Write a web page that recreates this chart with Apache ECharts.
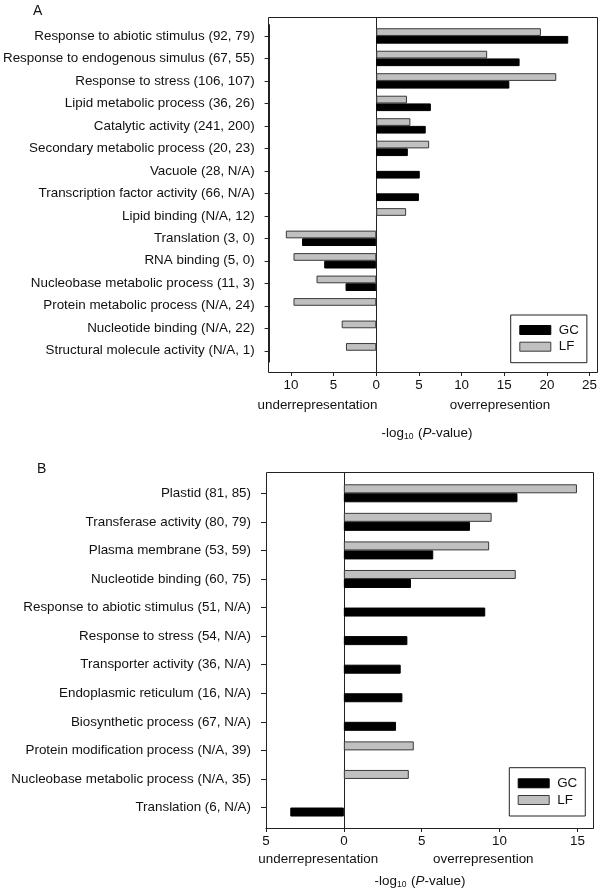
<!DOCTYPE html>
<html>
<head>
<meta charset="utf-8">
<script src="https://cdn.jsdelivr.net/npm/echarts@6/dist/echarts.min.js"></script>
<style>
html,body{margin:0;padding:0;background:#fff;}
#c{width:600px;height:893px;}
</style>
</head>
<body>
<div id="c"></div>
<script>
// ---- Data ----
const catsA = [
  'Response to abiotic stimulus (92, 79)',
  'Response to endogenous simulus (67, 55)',
  'Response to stress (106, 107)',
  'Lipid metabolic process (36, 26)',
  'Catalytic activity (241, 200)',
  'Secondary metabolic process (20, 23)',
  'Vacuole (28, N/A)',
  'Transcription factor activity (66, N/A)',
  'Lipid binding (N/A, 12)',
  'Translation (3, 0)',
  'RNA binding (5, 0)',
  'Nucleobase metabolic process (11, 3)',
  'Protein metabolic process (N/A, 24)',
  'Nucleotide binding (N/A, 22)',
  'Structural molecule activity (N/A, 1)'
];
const gcA = [22.5, 16.8, 15.6, 6.4, 5.8, 3.7, 5.1, 5.0, null, -8.7, -6.1, -3.6, null, null, null];
const lfA = [19.3, 13.0, 21.1, 3.6, 4.0, 6.2, null, null, 3.5, -10.6, -9.7, -7.0, -9.7, -4.05, -3.55];
const ticksA = [-10, -5, 0, 5, 10, 15, 20, 25];

const catsB = [
  'Plastid (81, 85)',
  'Transferase activity (80, 79)',
  'Plasma membrane (53, 59)',
  'Nucleotide binding (60, 75)',
  'Response to abiotic stimulus (51, N/A)',
  'Response to stress (54, N/A)',
  'Transporter activity (36, N/A)',
  'Endoplasmic reticulum (16, N/A)',
  'Biosynthetic process (67, N/A)',
  'Protein modification process (N/A, 39)',
  'Nucleobase metabolic process (N/A, 35)',
  'Translation (6, N/A)'
];
const gcB = [11.15, 8.1, 5.74, 4.31, 9.08, 4.08, 3.65, 3.76, 3.35, null, null, -3.44];
const lfB = [14.97, 9.49, 9.33, 11.04, null, null, null, null, null, 4.49, 4.17, null];
const ticksB = [-5, 0, 5, 10, 15];

// ---- Styles ----
const FONT = 'Liberation Sans, Arial, sans-serif';
const TXT = '#111';
const LINE = '#222';
const LF_COLOR = '#c0c0c0';
const LF_BORDER = '#3a3a3a';

const frameA = {x: 268.5, y: 17.5, w: 329, h: 355};
const frameB = {x: 266.5, y: 472.5, w: 327, h: 356};

const chart = echarts.init(document.getElementById('c'), null, {renderer: 'canvas'});

function xAxisCfg(grid, min, max, ticks, offset) {
  return {
    gridIndex: grid, type: 'value', min: min, max: max, offset: offset,
    axisLine: {show: true, onZero: false, lineStyle: {color: LINE, width: 1}},
    axisTick: {show: true, length: 4, customValues: ticks, lineStyle: {color: LINE}},
    axisLabel: {customValues: ticks, formatter: v => String(Math.abs(v)), fontSize: 13.4, color: TXT, fontFamily: FONT, margin: 7},
    splitLine: {show: false}
  };
}
function yAxisCfg(grid, cats) {
  return {
    gridIndex: grid, type: 'category', data: cats, inverse: true,
    axisLine: {show: true, onZero: false, lineStyle: {color: LINE, width: 1}},
    axisTick: {show: true, interval: 0, alignWithLabel: true, inside: false, length: 5, lineStyle: {color: LINE, width: 1}},
    axisLabel: {interval: 0, fontSize: 13.4, color: TXT, fontFamily: FONT, margin: 15},
    splitLine: {show: false}
  };
}
function legendCfg(left, top, pad) {
  return {
    orient: 'vertical', left: left, top: top, padding: pad,
    borderColor: LINE, borderWidth: 1, backgroundColor: '#fff',
    itemWidth: 31, itemHeight: 9, itemGap: 2.7, selectedMode: false,
    textStyle: {fontSize: 13.4, lineHeight: 14, color: TXT, fontFamily: FONT, padding: [0, 0, 0, 3]},
    data: [
      {name: 'GC', icon: 'rect', itemStyle: {color: '#000', borderColor: '#000', borderWidth: 1}},
      {name: 'LF', icon: 'rect', itemStyle: {color: LF_COLOR, borderColor: LF_BORDER, borderWidth: 1}}
    ]
  };
}

const option = {
  animation: false,
  backgroundColor: '#fff',
  grid: [
    {left: 268, top: 24.7, width: 329, height: 337.3},
    {left: 266, top: 479, width: 327, height: 342.8}
  ],
  xAxis: [
    xAxisCfg(0, -12.5, 25, ticksA, 10),
    xAxisCfg(1, -5, 16, ticksB, 6.2)
  ],
  yAxis: [yAxisCfg(0, catsA), yAxisCfg(1, catsB)],
  legend: [legendCfg(510.7, 315, [8, 8, 9, 8.6]), legendCfg(509.3, 767.7, [8.6, 8, 9, 8.4])],
  series: [
    {name: 'LF', type: 'bar', xAxisIndex: 0, yAxisIndex: 0, data: lfA, barWidth: 7.7, barGap: '0%',
     itemStyle: {color: LF_COLOR, borderColor: LF_BORDER, borderWidth: 1}},
    {name: 'GC', type: 'bar', xAxisIndex: 0, yAxisIndex: 0, data: gcA, barWidth: 7.7, barGap: '0%',
     itemStyle: {color: '#000', borderColor: '#000', borderWidth: 1}},
    {name: 'LF', type: 'bar', xAxisIndex: 1, yAxisIndex: 1, data: lfB, barWidth: 9, barGap: '0%',
     itemStyle: {color: LF_COLOR, borderColor: LF_BORDER, borderWidth: 1}},
    {name: 'GC', type: 'bar', xAxisIndex: 1, yAxisIndex: 1, data: gcB, barWidth: 9, barGap: '0%',
     itemStyle: {color: '#000', borderColor: '#000', borderWidth: 1}}
  ]
};
chart.setOption(option);

const x0A = Math.round(chart.convertToPixel({xAxisIndex: 0}, 0)) + 0.5;
const x0B = Math.round(chart.convertToPixel({xAxisIndex: 1}, 0)) + 0.5;

function txt(x, y, s, extra) {
  return {type: 'text', x: x, y: y, silent: true, z: 10,
    style: Object.assign({text: s, fontSize: 13.4, fontFamily: FONT, fill: TXT, align: 'center', verticalAlign: 'middle'}, extra || {})};
}
const richLog = {
  b: {fontSize: 13.4, fontFamily: FONT, fill: TXT, verticalAlign: 'middle', lineHeight: 16},
  s: {fontSize: 8.5, fontFamily: FONT, fill: TXT, verticalAlign: 'bottom', lineHeight: 9, padding: [9, 1, 0, 0]},
  i: {fontSize: 13.4, fontFamily: FONT, fill: TXT, fontStyle: 'italic', verticalAlign: 'middle', lineHeight: 16}
};
const logText = '{b|-log}{s|10}{b| (}{i|P}{b|-value)}';

chart.setOption({
  graphic: [
    {type: 'rect', silent: true, z: 1, shape: {x: frameA.x, y: frameA.y, width: frameA.w, height: frameA.h},
     style: {fill: 'none', stroke: LINE, lineWidth: 1}},
    {type: 'rect', silent: true, z: 1, shape: {x: frameB.x, y: frameB.y, width: frameB.w, height: frameB.h},
     style: {fill: 'none', stroke: LINE, lineWidth: 1}},
    {type: 'line', silent: true, z: 1, shape: {x1: x0A, y1: frameA.y, x2: x0A, y2: frameA.y + frameA.h},
     style: {stroke: LINE, lineWidth: 1}},
    {type: 'line', silent: true, z: 1, shape: {x1: x0B, y1: frameB.y, x2: x0B, y2: frameB.y + frameB.h},
     style: {stroke: LINE, lineWidth: 1}},
    txt(33, 11, 'A', {align: 'left', fontSize: 14}),
    txt(37, 469.5, 'B', {align: 'left', fontSize: 14}),
    txt(317.5, 405, 'underrepresentation'),
    txt(500, 405, 'overrepresention'),
    txt(427, 433, logText, {rich: richLog}),
    txt(318.3, 859.3, 'underrepresentation'),
    txt(483.3, 859.3, 'overrepresention'),
    txt(420, 881.5, logText, {rich: richLog})
  ]
});
</script>
</body>
</html>
